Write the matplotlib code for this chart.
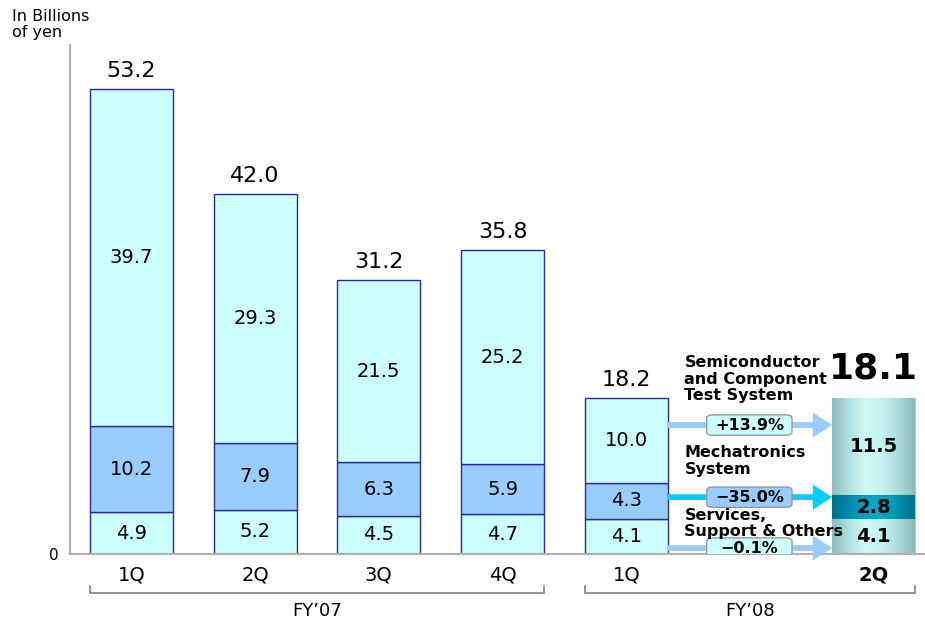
import numpy as np
import matplotlib
matplotlib.use("Agg")
from matplotlib import pyplot as plt
from matplotlib.colors import LinearSegmentedColormap
from matplotlib.patches import FancyBboxPatch
import matplotlib.transforms as mtransforms

# data (billions of yen)
quarters = ["1Q", "2Q", "3Q", "4Q", "1Q", "2Q"]
xpos = [0, 1, 2, 3, 4, 6]
services = [4.9, 5.2, 4.5, 4.7, 4.1, 4.1]
mechatronics = [10.2, 7.9, 6.3, 5.9, 4.3, 2.8]
semiconductor = [39.7, 29.3, 21.5, 25.2, 10.0, 11.5]
totals = [53.2, 42.0, 31.2, 35.8, 18.2, 18.1]

segment_names = ["Semiconductor\nand Component\nTest System",
                 "Mechatronics\nSystem",
                 "Services,\nSupport & Others"]
growth = ["+13.9%", "\u221235.0%", "\u22120.1%"]

plt.rcParams['font.family'] = ['DejaVu Sans']

fig = plt.figure(figsize=(9.25, 6.22), dpi=100)
ax = fig.add_axes([70/925, 68/622, 855/925, 509/622])

w = 0.67
edge = "#2a2a96"
light = "#ccffff"
mid = "#99ccff"

# FY'07 and FY'08 1Q drawn as flat bars
n = 5
ax.bar(xpos[:n], services[:n], w, color=light, edgecolor=edge, lw=1)
ax.bar(xpos[:n], mechatronics[:n], w, bottom=services[:n], color=mid, edgecolor=edge, lw=1)
bot3 = [a + b for a, b in zip(services, mechatronics)]
tops = [a + b for a, b in zip(bot3, semiconductor)]
ax.bar(xpos[:n], semiconductor[:n], w, bottom=bot3[:n], color=light, edgecolor=edge, lw=1)

# last bar: cylinder look with gradient
cyl = LinearSegmentedColormap.from_list("cyl", ["#8ebcbc", "#b0e0e0", "#d0f8f8", "#c4f2f2", "#acdcdc", "#8cb8b8"])
cyl_mid = LinearSegmentedColormap.from_list("cylm", ["#00708c", "#0090b0", "#00a8c8", "#0098b8", "#006f8a"])
grad = np.linspace(0, 1, 256).reshape(1, -1)
last = [services[-1], mechatronics[-1], semiconductor[-1]]
bottoms = [0, services[-1], bot3[-1]]
for val, bot, cm in zip(last, bottoms, [cyl, cyl_mid, cyl]):
    p = ax.bar(xpos[-1], val, w, bottom=bot, color="none", edgecolor="#a8cccc", lw=0.8)[0]
    im = ax.imshow(grad, cmap=cm, aspect="auto",
                   extent=[xpos[-1] - w/2, xpos[-1] + w/2, bot, bot + val], zorder=1.5)
    im.set_clip_path(p)

# value labels inside segments
for i, x in enumerate(xpos):
    bold = (i == len(xpos) - 1)
    fw = "bold" if bold else "normal"
    ax.text(x, services[i]/2, f"{services[i]:.1f}", ha="center", va="center", fontsize=14, fontweight=fw, zorder=5)
    ax.text(x, services[i] + mechatronics[i]/2, f"{mechatronics[i]:.1f}", ha="center", va="center", fontsize=14, fontweight=fw, zorder=5)
    ax.text(x, bot3[i] + semiconductor[i]/2, f"{semiconductor[i]:.1f}", ha="center", va="center", fontsize=14, fontweight=fw, zorder=5)
    if bold:
        ax.annotate(f"{totals[i]:.1f}", (x, tops[i]), xytext=(0, 9), textcoords="offset points",
                    ha="center", va="bottom", fontsize=26, fontweight="bold")
    else:
        ax.annotate(f"{totals[i]:.1f}", (x, tops[i]), xytext=(0, 6), textcoords="offset points",
                    ha="center", va="bottom", fontsize=16)

# arrows between FY'08 1Q and 2Q
arrow_y = [15.2, 6.7, 0.7]
arrow_col = ["#99ccff", "#00ccff", "#99ccff"]
box_col = [light, mid, light]
label_y = [23.4, 12.8, 5.4]
x0 = xpos[4] + w/2
x1 = xpos[5] - w/2
for k in range(3):
    ax.annotate("", xy=(x1, arrow_y[k]), xytext=(x0, arrow_y[k]),
                arrowprops=dict(arrowstyle="simple,head_width=1.8,head_length=1.4,tail_width=0.42",
                                color=arrow_col[k], lw=0, shrinkA=0, shrinkB=0), zorder=3)
    bx = FancyBboxPatch((4.65, arrow_y[k] - 1.2), 0.69, 2.4,
                        boxstyle="round,pad=0,rounding_size=0.05", mutation_aspect=8,
                        fc=box_col[k], ec="#999999", lw=1, zorder=4)
    ax.add_patch(bx)
    ax.text(4.995, arrow_y[k], growth[k], ha="center", va="center", fontsize=11.5, fontweight="bold", zorder=5)
    ax.text(4.47, label_y[k], segment_names[k], ha="left", va="top", fontsize=11.5,
            fontweight="bold", linespacing=1.1, zorder=5)

ax.set_xlim(-0.497, 6.415)
ax.set_ylim(0, 60)

for s in ["top", "right"]:
    ax.spines[s].set_visible(False)
ax.spines["left"].set_color("#b0b0b0")
ax.spines["bottom"].set_color("#b0b0b0")
ax.spines["left"].set_linewidth(1.5)
ax.spines["bottom"].set_linewidth(1.5)

ax.set_yticks([0])
ax.set_yticklabels(["0"], fontsize=11)
ax.tick_params(axis="y", length=0, pad=8)
ax.set_xticks(xpos)
ax.set_xticklabels(quarters, fontsize=14)
ax.get_xticklabels()[-1].set_fontweight("bold")
ax.tick_params(axis="x", length=0, pad=8)

tr = mtransforms.blended_transform_factory(ax.transData, ax.transAxes)
ax.text(-0.966, 1.01, "In Billions\nof yen", transform=tr,
        ha="left", va="bottom", fontsize=11.5, linespacing=1.1)

# fiscal year brackets
for xa, xb, lab in [(xpos[0] - w/2, xpos[3] + w/2, "FY\u201907"), (xpos[4] - w/2, xpos[5] + w/2, "FY\u201908")]:
    ax.plot([xa, xa, xb, xb], [-0.062, -0.077, -0.077, -0.062], color="#808080", lw=1.2,
            transform=tr, clip_on=False)
    ax.text((xa + xb)/2, -0.112, lab, ha="center", va="center", fontsize=13, transform=tr)

plt.savefig("out.png", dpi=100)
